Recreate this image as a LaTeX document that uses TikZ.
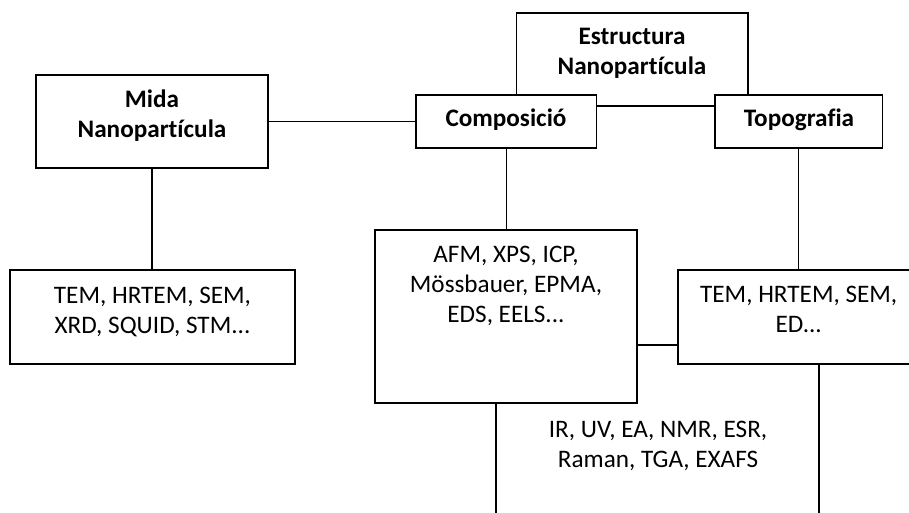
\documentclass[tikz,border=0pt]{standalone}
\usepackage{fontspec}
\setmainfont{Carlito}[Ligatures={NoCommon}]
\usetikzlibrary{fit}
\begin{document}
\begin{tikzpicture}[x=0.75pt,y=-0.75pt,
  box/.style={draw, line width=0.9pt, inner sep=0pt, fill=white},
  txt/.style={align=center, inner sep=0pt, font=\fontsize{18.9}{22.2}\selectfont},
  ttl/.style={align=center, inner sep=0pt, font=\fontsize{18.9}{22}\selectfont\bfseries},
  wire/.style={line width=0.9pt}]
\useasboundingbox (0,0) rectangle (909,512);
\clip (0,0) rectangle (909,512);
% boxes lying underneath
\node[box, fit={(516.7,13) (748,106)}] (estr) {};
\node[box, fit={(496,345) (819,540)}] (ir) {};
% boxes on top
\node[box, fit={(36,75) (268,168)}] (mida) {};
\node[box, fit={(416,95) (596.7,148)}] (comp) {};
\node[box, fit={(715,95) (882.7,148)}] (topo) {};
\node[box, fit={(10,270) (295,364)}] (tem1) {};
\node[box, fit={(375,230) (637,403)}] (afm) {};
\node[box, fit={(678,270) (920,364)}] (tem2) {};
% connectors
\draw[wire] (mida.east) -- (comp.west);
\draw[wire] (mida.south) -- (mida.south |- tem1.north);
\draw[wire] (comp.south) -- (comp.south |- afm.north);
\draw[wire] (topo.south) -- (topo.south |- tem2.north);
% texts
\node[ttl] (midaT) at (152,115.6) {Mida\\Nanopartícula};
\node[ttl] (estrT) at (632,53.3) {Estructura\\Nanopartícula};
\node[ttl, anchor=base] (compT) at (506,126) {Composició};
\node[ttl, anchor=base] (topoT) at (799,126) {Topografia};
\node[txt] (tem1T) at (152.5,311.7) {TEM, HRTEM, SEM,\\XRD, SQUID, STM...};
\node[txt] (afmT) at (506,286) {AFM, XPS, ICP,\\Mössbauer, EPMA,\\EDS, EELS...};
\node[txt] (tem2T) at (798.7,309.5) {TEM, HRTEM, SEM,\\ED...};
\node[txt] (irT) at (658,446) {IR, UV, EA, NMR, ESR,\\Raman, TGA, EXAFS};
\end{tikzpicture}
\end{document}
